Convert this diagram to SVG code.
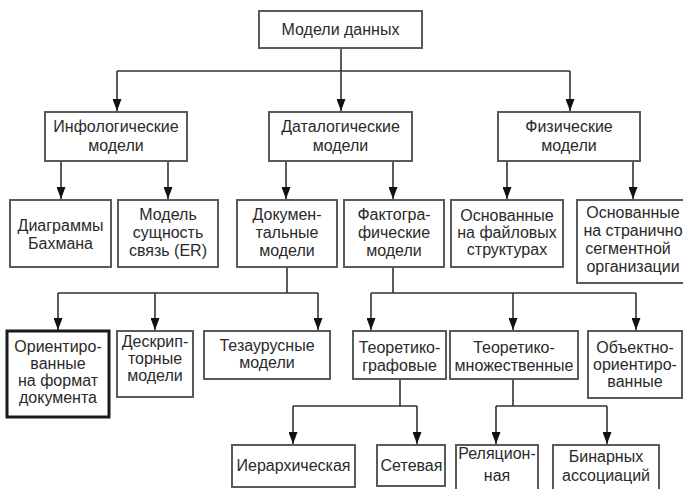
<svg xmlns="http://www.w3.org/2000/svg" width="683" height="489" viewBox="0 0 683 489">
<defs>
<marker id="arr" viewBox="0 0 12 9" markerWidth="12" markerHeight="9" refX="12" refY="4.5" orient="auto" markerUnits="userSpaceOnUse">
<path d="M0,0 L12,4.5 L0,9 z" fill="#111"/>
</marker>
<style>
.b{fill:#fff;stroke:#5a5a5a;stroke-width:2}
.bt{fill:#fff;stroke:#1a1a1a;stroke-width:3}
.t{font-family:"Liberation Sans",Arial,sans-serif;font-size:16px;fill:#2a2a2a;text-anchor:middle}
.c{fill:none;stroke:#333;stroke-width:1.6}
.a{fill:none;stroke:#333;stroke-width:1.6;marker-end:url(#arr)}
</style>
</defs>
<rect width="683" height="489" fill="#fff"/>
<g id="connectors">
<path class="c" d="M117,71 H570"/>
<path class="a" d="M341,48 V111"/>
<path class="a" d="M117,71 V111"/>
<path class="a" d="M570,71 V111"/>
<path class="a" d="M61,161 V199"/>
<path class="a" d="M168,161 V199"/>
<path class="a" d="M286,161 V199"/>
<path class="a" d="M393,161 V199"/>
<path class="a" d="M507,161 V199"/>
<path class="a" d="M633,161 V199"/>
<path class="c" d="M287,267 V293 M58,293 H318 M393,267 V293 M371,293 H636"/>
<path class="a" d="M58,293 V330"/>
<path class="a" d="M155,293 V330"/>
<path class="a" d="M318,293 V330"/>
<path class="a" d="M371,293 V330"/>
<path class="a" d="M513,293 V330"/>
<path class="a" d="M636,293 V330"/>
<path class="c" d="M400,379 V406 M293,406 H417 M513,379 V406 M496,406 H607"/>
<path class="a" d="M293,406 V444"/>
<path class="a" d="M417,406 V444"/>
<path class="a" d="M496,406 V444"/>
<path class="a" d="M607,406 V444"/>
</g>
<g id="root"><rect class="b" x="259" y="11" width="163" height="37"/><text class="t" x="340.5" y="35">Модели данных</text></g>
<g id="info"><rect class="b" x="45" y="112" width="142" height="49"/><text class="t" x="116" y="132">Инфологические</text><text class="t" x="116" y="151">модели</text></g>
<g id="data"><rect class="b" x="269" y="112" width="143" height="49"/><text class="t" x="340.5" y="132">Даталогические</text><text class="t" x="340.5" y="151">модели</text></g>
<g id="phys"><rect class="b" x="498" y="112" width="142" height="49"/><text class="t" x="569" y="132">Физические</text><text class="t" x="569" y="151">модели</text></g>
<g id="bachman"><rect class="b" x="10" y="200" width="101" height="67"/><text class="t" x="60.5" y="231">Диаграммы</text><text class="t" x="60.5" y="249">Бахмана</text></g>
<g id="er"><rect class="b" x="118" y="200" width="100" height="67"/><text class="t" x="168" y="220">Модель</text><text class="t" x="168" y="238">сущность</text><text class="t" x="168" y="256">связь (ER)</text></g>
<g id="doc"><rect class="b" x="237" y="200" width="100" height="67"/><text class="t" x="287" y="220">Докумен-</text><text class="t" x="287" y="238">тальные</text><text class="t" x="287" y="256">модели</text></g>
<g id="fact"><rect class="b" x="344" y="200" width="100" height="67"/><text class="t" x="394" y="220">Фактогра-</text><text class="t" x="394" y="238">фические</text><text class="t" x="394" y="256">модели</text></g>
<g id="files"><rect class="b" x="451" y="200" width="112" height="67"/><text class="t" x="507" y="221">Основанные</text><text class="t" x="507" y="238">на файловых</text><text class="t" x="507" y="255">структурах</text></g>
<g id="pages"><rect class="b" x="577" y="200" width="115" height="83"/><text class="t" x="633" y="218">Основанные</text><text class="t" x="633" y="236">на странично</text><text class="t" x="628" y="254">сегментной</text><text class="t" x="633" y="272">организации</text></g>
<g id="docformat"><rect class="bt" x="7" y="331" width="102" height="86"/><text class="t" x="58" y="352">Ориентиро-</text><text class="t" x="58" y="369">ванные</text><text class="t" x="58" y="386">на формат</text><text class="t" x="58" y="403">документа</text></g>
<g id="descr"><rect class="b" x="117" y="331" width="76" height="66"/><text class="t" x="155" y="347">Дескрип-</text><text class="t" x="155" y="364">торные</text><text class="t" x="155" y="381">модели</text></g>
<g id="thes"><rect class="b" x="204" y="331" width="126" height="48"/><text class="t" x="267" y="351">Тезаурусные</text><text class="t" x="267" y="368">модели</text></g>
<g id="graph"><rect class="b" x="353" y="331" width="93" height="48"/><text class="t" x="399.5" y="353">Теоретико-</text><text class="t" x="399.5" y="371">графовые</text></g>
<g id="sets"><rect class="b" x="450" y="331" width="128" height="48"/><text class="t" x="514" y="353">Теоретико-</text><text class="t" x="514" y="371">множественные</text></g>
<g id="oo"><rect class="b" x="588" y="331" width="94" height="67"/><text class="t" x="635" y="353">Объектно-</text><text class="t" x="635" y="370">ориентиро-</text><text class="t" x="635" y="387">ванные</text></g>
<g id="hier"><rect class="b" x="232" y="445" width="123" height="42"/><text class="t" x="293.5" y="471">Иерархическая</text></g>
<g id="net"><rect class="b" x="377" y="445" width="68" height="41"/><text class="t" x="411.5" y="471">Сетевая</text></g>
<g id="rel"><rect class="b" x="456" y="445" width="82" height="46"/><text class="t" x="497" y="459">Реляцион-</text><text class="t" x="497" y="481">ная</text></g>
<g id="bin"><rect class="b" x="553" y="445" width="106" height="46"/><text class="t" x="606" y="462">Бинарных</text><text class="t" x="606" y="481">ассоциаций</text></g>
</svg>
